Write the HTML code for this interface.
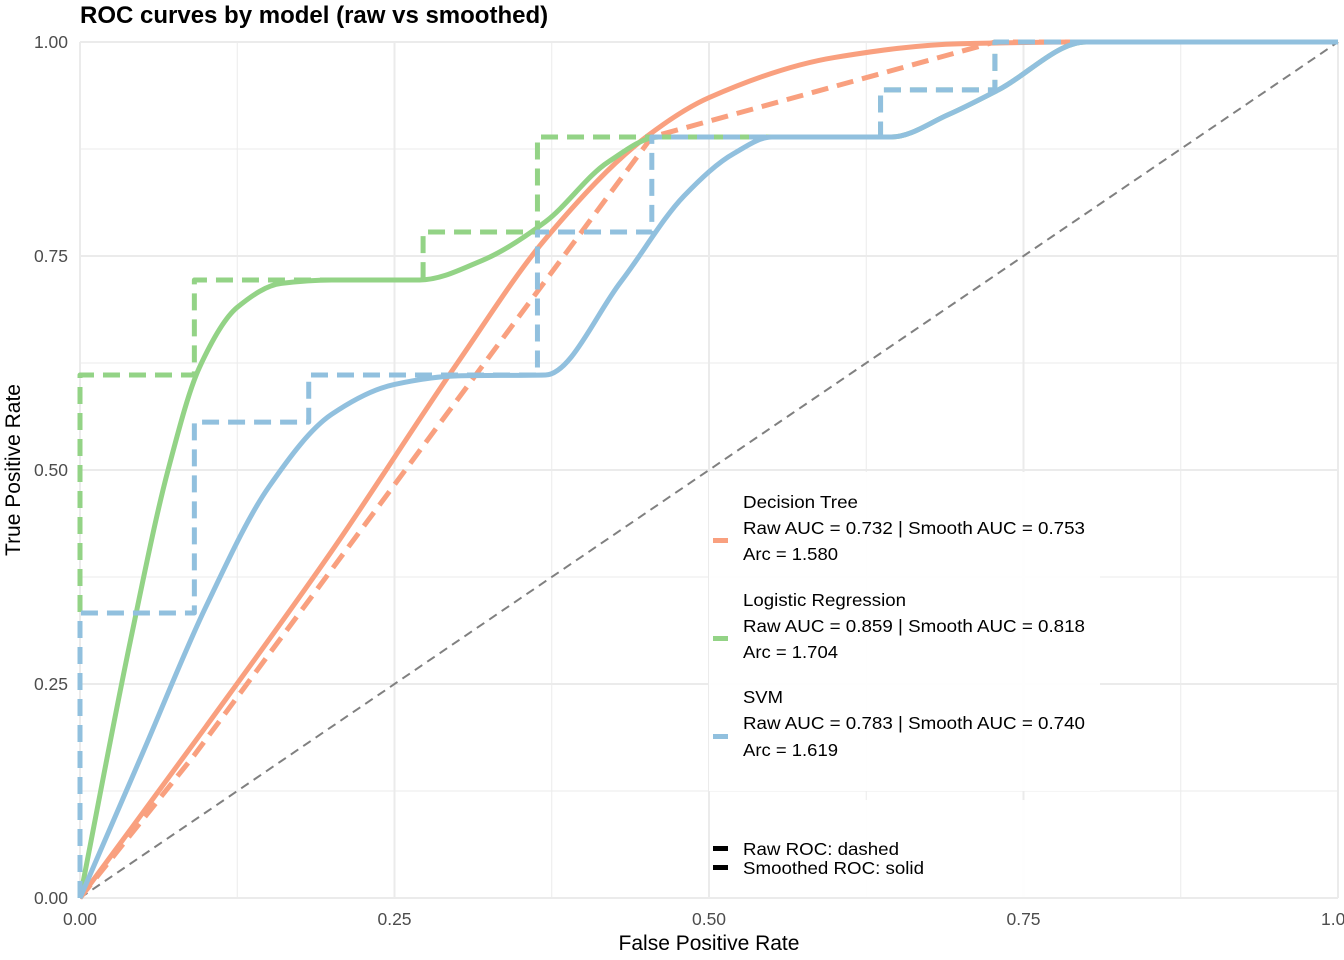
<!DOCTYPE html>
<html><head><meta charset="utf-8"><style>
body{margin:0;background:#fff;}
svg{display:block;font-family:"Liberation Sans",Arial,sans-serif;}
</style></head><body>
<svg id="s" width="1344" height="960" xmlns="http://www.w3.org/2000/svg">
<rect width="1344" height="960" fill="#fff"/>
<g id="grid"></g>
<g id="curves" fill="none" stroke-linejoin="round"></g>
<rect x="709" y="472" width="391" height="319" fill="#fff" fill-opacity="0.92"/>
<rect x="710" y="800" width="390" height="97" fill="#fff" fill-opacity="0.92"/>
<g font-size="17.5" fill="#000">
<text x="743" y="508" textLength="115" lengthAdjust="spacingAndGlyphs">Decision Tree</text>
<text x="743" y="534" textLength="342" lengthAdjust="spacingAndGlyphs">Raw AUC = 0.732 | Smooth AUC = 0.753</text>
<text x="743" y="560" textLength="95" lengthAdjust="spacingAndGlyphs">Arc = 1.580</text>
<text x="743" y="606" textLength="163" lengthAdjust="spacingAndGlyphs">Logistic Regression</text>
<text x="743" y="632" textLength="342" lengthAdjust="spacingAndGlyphs">Raw AUC = 0.859 | Smooth AUC = 0.818</text>
<text x="743" y="658" textLength="95" lengthAdjust="spacingAndGlyphs">Arc = 1.704</text>
<text x="743" y="703" textLength="40" lengthAdjust="spacingAndGlyphs">SVM</text>
<text x="743" y="729" textLength="342" lengthAdjust="spacingAndGlyphs">Raw AUC = 0.783 | Smooth AUC = 0.740</text>
<text x="743" y="756" textLength="95" lengthAdjust="spacingAndGlyphs">Arc = 1.619</text>
<text x="743" y="855" textLength="156" lengthAdjust="spacingAndGlyphs">Raw ROC: dashed</text>
<text x="743" y="874" textLength="181" lengthAdjust="spacingAndGlyphs">Smoothed ROC: solid</text>
</g>
<rect x="713" y="538" width="15" height="5" fill="#f9a07f"/>
<rect x="713" y="636" width="15" height="5" fill="#93d386"/>
<rect x="713" y="734" width="15" height="5" fill="#91c0de"/>
<rect x="713" y="846" width="15" height="5" fill="#000"/>
<rect x="713" y="865" width="15" height="5" fill="#000"/>
<g font-size="17.5" fill="#4d4d4d" text-anchor="end">
<text x="68" y="904">0.00</text><text x="68" y="690">0.25</text><text x="68" y="476">0.50</text><text x="68" y="262">0.75</text><text x="68" y="48">1.00</text>
</g>
<g font-size="17.5" fill="#4d4d4d" text-anchor="middle">
<text x="80" y="925">0.00</text><text x="394.5" y="925">0.25</text><text x="709" y="925">0.50</text><text x="1023.5" y="925">0.75</text><text x="1338" y="925">1.00</text>
</g>
<text x="709" y="950" font-size="21" text-anchor="middle">False Positive Rate</text>
<text transform="translate(20,470) rotate(-90)" font-size="21" text-anchor="middle">True Positive Rate</text>
<text x="80" y="23" font-size="24" font-weight="bold">ROC curves by model (raw vs smoothed)</text>
</svg>
<script>
var X=function(v){return 80+1258*v},Y=function(v){return 898-856*v};
var NS="http://www.w3.org/2000/svg";
function el(p,t,a){var e=document.createElementNS(NS,t);for(var k in a)e.setAttribute(k,a[k]);p.appendChild(e);return e;}
var g=document.getElementById('grid');
for(var i=0;i<=8;i++){var v=i/8,maj=i%2==0;
 el(g,'line',{x1:X(v),x2:X(v),y1:42,y2:898,stroke:'#ebebeb','stroke-width':maj?2:1});
 el(g,'line',{y1:Y(v),y2:Y(v),x1:80,x2:1338,stroke:'#ebebeb','stroke-width':maj?2:1});}
var c=document.getElementById('curves');
function step(pts){var d='M'+X(pts[0][0])+' '+Y(pts[0][1]);for(var i=1;i<pts.length;i++)d+=' L'+X(pts[i][0])+' '+Y(pts[i][1]);return d;}
function smooth(p){
 var n=p.length,dx=[],m=[],t=[];
 for(var i=0;i<n-1;i++){dx[i]=p[i+1][0]-p[i][0];m[i]=(p[i+1][1]-p[i][1])/dx[i];}
 t[0]=m[0];t[n-1]=m[n-2];
 for(i=1;i<n-1;i++){t[i]=(m[i-1]*m[i]<=0)?0:3*(dx[i-1]+dx[i])/((2*dx[i]+dx[i-1])/m[i-1]+(dx[i]+2*dx[i-1])/m[i]);}
 var d='M'+X(p[0][0])+' '+Y(p[0][1]);
 for(i=0;i<n-1;i++){var h=dx[i]/3;
  d+=' C'+X(p[i][0]+h)+' '+Y(p[i][1]+t[i]*h)+' '+X(p[i+1][0]-h)+' '+Y(p[i+1][1]-t[i+1]*h)+' '+X(p[i+1][0])+' '+Y(p[i+1][1]);}
 return d;}
var OR='#f9a07f',GR='#93d386',BL='#91c0de';
var a=1/11;
el(c,'line',{x1:X(0),y1:Y(0),x2:X(1),y2:Y(1),stroke:'#808080','stroke-width':2,'stroke-dasharray':'9 6'});
function path(d,col,ds){var o={d:d,stroke:col,'stroke-width':5};if(ds)o['stroke-dasharray']='17 9';el(c,'path',o);}
path(step([[0,0],[a,0.167],[5*a,0.889],[8*a,1],[1,1]]),OR,true);
path(smooth([[0,0],[0.1,0.2],[0.2,0.405],[0.3,0.625],[0.37,0.77],[0.45,0.889],[0.5,0.935],[0.6,0.982],[0.7,0.998],[0.8,1],[1,1]]),OR,false);
path(step([[0,0],[0,0.611],[a,0.611],[a,0.722],[3*a,0.722],[3*a,0.778],[4*a,0.778],[4*a,0.889],[7*a,0.889],[7*a,0.944],[8*a,0.944],[8*a,1],[1,1]]),GR,true);
path(smooth([[0,0],[0.04,0.3],[0.07,0.5],[0.095,0.62],[0.125,0.69],[0.16,0.718],[0.2,0.722],[0.27,0.722],[0.32,0.745],[0.37,0.79],[0.42,0.86],[0.46,0.889],[0.645,0.889],[0.69,0.915],[0.73,0.944],[0.8,1],[1,1]]),GR,false);
path(step([[0,0],[0,0.333],[a,0.333],[a,0.556],[2*a,0.556],[2*a,0.611],[4*a,0.611],[4*a,0.778],[5*a,0.778],[5*a,0.889],[7*a,0.889],[7*a,0.944],[8*a,0.944],[8*a,1],[1,1]]),BL,true);
path(smooth([[0,0],[0.05,0.17],[0.1,0.34],[0.15,0.48],[0.2,0.565],[0.25,0.6],[0.3,0.61],[0.37,0.611],[0.43,0.72],[0.48,0.82],[0.52,0.87],[0.55,0.889],[0.645,0.889],[0.69,0.915],[0.73,0.944],[0.8,1],[1,1]]),BL,false);
</script>
</body></html>
